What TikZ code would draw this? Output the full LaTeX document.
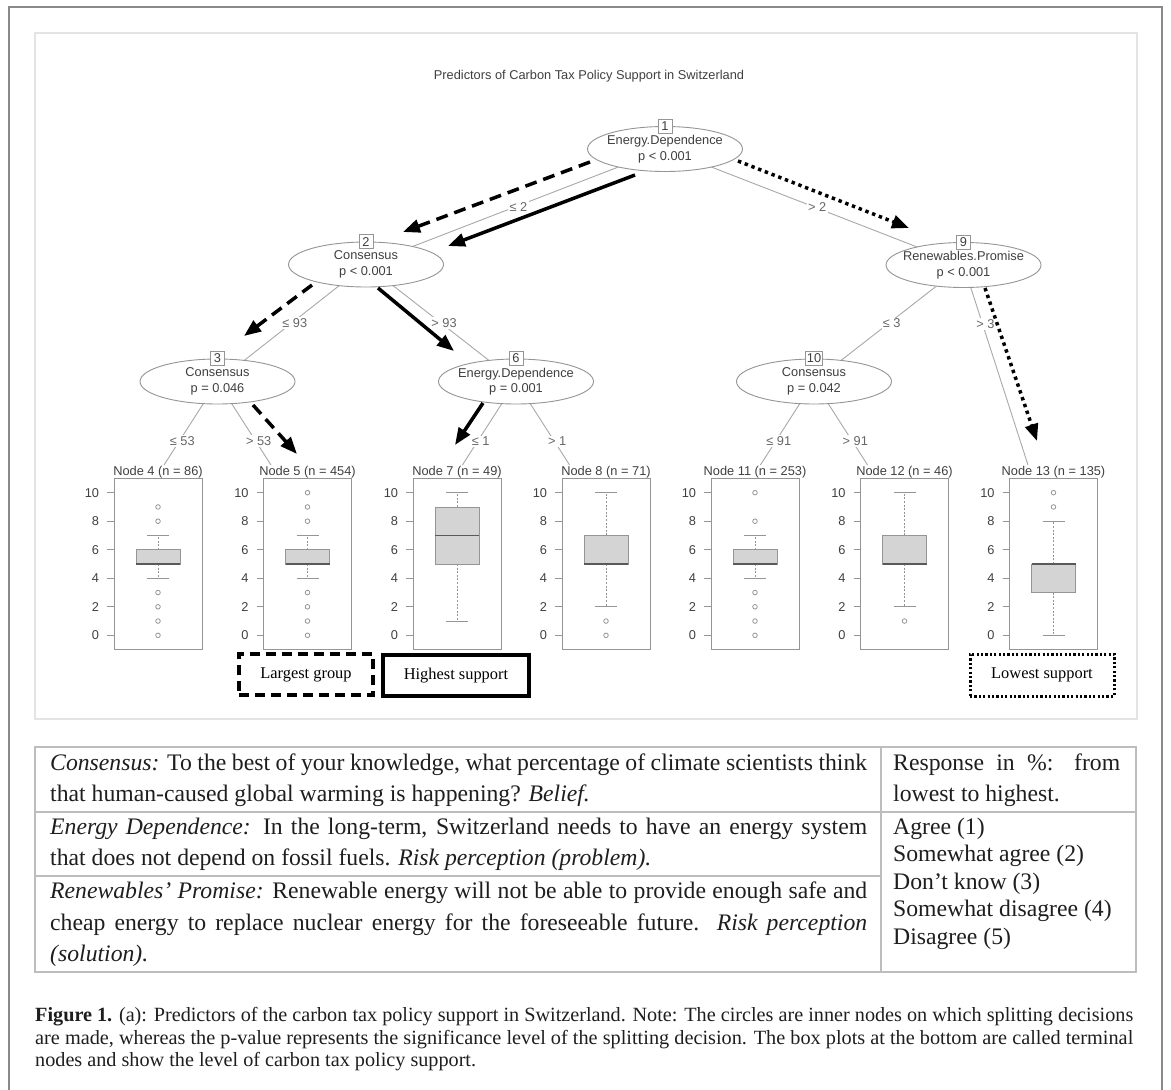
\documentclass[tikz,border=0pt]{standalone}
\usepackage{fontspec}
\usepackage{graphicx}
\setmainfont{Liberation Serif}
\newfontfamily\rfont{Liberation Sans}
\usetikzlibrary{shapes.geometric,arrows.meta}
\pgfdeclarelayer{bg}
\pgfsetlayers{bg,main}
\definecolor{rtext}{HTML}{3F3F3F}
\definecolor{rlab}{HTML}{666666}
\definecolor{rline}{HTML}{A8A8A8}
\definecolor{rbox}{HTML}{959595}
\definecolor{bfill}{HTML}{D4D4D4}
\definecolor{panelb}{HTML}{E4E4E4}
\definecolor{frameg}{HTML}{8A8A8A}
\definecolor{tableg}{HTML}{BDBDBD}
\definecolor{ink}{HTML}{1E1E1E}
\tikzset{
  rsty/.style={font=\rfont\fontsize{12.8pt}{15.6pt}\selectfont, text=rtext},
  inner/.style={ellipse, draw=rbox, fill=white, line width=0.9pt, minimum width=155pt, minimum height=45pt, inner sep=0pt},
  ntext/.style={rsty, align=center, inner sep=0pt},
  numbox/.style={draw=rbox, fill=white, line width=0.9pt, minimum width=14pt, minimum height=14pt, inner sep=1.2pt, rsty},
  treeedge/.style={draw=rline, line width=0.9pt},
  elabel/.style={fill=white, inner sep=1.2pt, rsty, text=rlab, xshift=3pt},
  leafframe/.style={draw=rbox, line width=0.9pt, fill=white, minimum width=88pt, minimum height=171pt, inner sep=0pt},
  leaflabel/.style={rsty, inner sep=0.5pt},
  ticklab/.style={rsty, anchor=east, inner sep=0pt},
  tickline/.style={draw=rbox, line width=0.8pt},
  whisk/.style={draw=rbox, line width=0.8pt, dash pattern=on 2pt off 1.6pt},
  capline/.style={draw=rbox, line width=0.9pt},
  bxs/.style={draw=rbox, fill=bfill, line width=0.9pt},
  medline/.style={draw=black!65, line width=1.6pt},
  outl/.style={draw=rbox, line width=0.8pt},
  hlarrow/.style={draw=black, line width=3.5pt, -{Triangle[length=17pt,width=13pt]}},
  dashpat/.style={dash pattern=on 12pt off 7pt},
  dotpat/.style={dash pattern=on 3.4pt off 3.8pt},
  hlbox/.style={draw=black, line width=3.2pt, inner sep=0pt, font=\fontsize{16.4pt}{19pt}\selectfont},
  tx/.style={anchor=base west, inner sep=0pt, text=ink, font=\fontsize{23.7pt}{31.6pt}\selectfont},
  captxt/.style={anchor=base west, inner sep=0pt, text=ink, font=\fontsize{20.2pt}{22.5pt}\selectfont},
  tablerule/.style={draw=tableg, line width=1.6pt}
}
\newcommand\jl[2]{\makebox[#1][s]{#2}}
\newcommand\leaf[8]{%
  \node[leafframe] (L#1) at (#2,564) {};
  \node[leaflabel] (H#1) at (#2,472) {#3};
  \foreach \v in {0,2,...,10}{%
    \draw[tickline] ({#2-51},{635.3-14.26*\v}) -- ({#2-44},{635.3-14.26*\v});
    \node[ticklab] (T#1-\v) at ({#2-58.8},{635.3-14.26*\v}) {\v};
  }
  \draw[whisk] (#2,{635.3-14.26*#6}) -- (#2,{635.3-14.26*#8});
  \draw[whisk] (#2,{635.3-14.26*#4}) -- (#2,{635.3-14.26*#7});
  \draw[capline] ({#2-11},{635.3-14.26*#8}) -- ({#2+11},{635.3-14.26*#8});
  \draw[capline] ({#2-11},{635.3-14.26*#7}) -- ({#2+11},{635.3-14.26*#7});
  \draw[bxs] ({#2-22},{635.3-14.26*#6}) rectangle ({#2+22},{635.3-14.26*#4});
  \draw[medline] ({#2-22},{635.3-14.26*#5}) -- ({#2+22},{635.3-14.26*#5});
}
\begin{document}
\begin{tikzpicture}[x=1pt,y=-1pt]
\useasboundingbox (0,0) rectangle (1171,1090);
% outer frame and plot panel
\draw[frameg, line width=1.5pt] (9,1091) -- (9,7) -- (1162,7) -- (1162,1091);
\draw[panelb, line width=2pt] (35,33) rectangle (1137,719);
% title
\node[rsty, inner sep=0pt] (title) at (589,76) {Predictors of Carbon Tax Policy Support in Switzerland};
% inner nodes
\node[inner] (n1) at (665,149) {};
\node[inner] (n2) at (366,264.5) {};
\node[inner] (n9) at (963.5,265) {};
\node[inner] (n3) at (217.5,381.5) {};
\node[inner] (n6) at (516,381.5) {};
\node[inner] (n10) at (814,381.5) {};
\node[ntext] (n1t) at (n1) {Energy.Dependence\\p < 0.001};
\node[ntext] (n2t) at (n2) {Consensus\\p < 0.001};
\node[ntext] (n9t) at (n9) {Renewables.Promise\\p < 0.001};
\node[ntext] (n3t) at (n3) {Consensus\\p = 0.046};
\node[ntext] (n6t) at (n6) {Energy.Dependence\\p = 0.001};
\node[ntext] (n10t) at (n10) {Consensus\\p = 0.042};
\node[numbox] (b1) at (n1.north) {1};
\node[numbox] (b2) at (n2.north) {2};
\node[numbox] (b9) at (n9.north) {9};
\node[numbox] (b3) at (n3.north) {3};
\node[numbox] (b6) at (n6.north) {6};
\node[numbox] (b10) at (n10.north) {10};
% leaf edge targets
\coordinate (t4) at (164,465);
\coordinate (t5) at (271,465);
\coordinate (t7) at (462.4,465);
\coordinate (t8) at (569.6,465);
\coordinate (t11) at (760.4,465);
\coordinate (t12) at (867.6,465);
\coordinate (t13) at (1028,465);
% terminal panels
\leaf{4}{158}{Node 4 (n = 86)}{5}{5}{6}{4}{7}
\foreach \o in {9,8,3,2,1,0} \draw[outl] (158,{635.3-14.26*\o}) circle[radius=2.3];
\leaf{5}{307.5}{Node 5 (n = 454)}{5}{5}{6}{4}{7}
\foreach \o in {10,9,8,3,2,1,0} \draw[outl] (307.5,{635.3-14.26*\o}) circle[radius=2.3];
\leaf{7}{457}{Node 7 (n = 49)}{5}{7}{9}{1}{10}
\leaf{8}{606}{Node 8 (n = 71)}{5}{5}{7}{2}{10}
\foreach \o in {1,0} \draw[outl] (606,{635.3-14.26*\o}) circle[radius=2.3];
\leaf{11}{755}{Node 11 (n = 253)}{5}{5}{6}{4}{7}
\foreach \o in {10,8,3,2,1,0} \draw[outl] (755,{635.3-14.26*\o}) circle[radius=2.3];
\leaf{12}{904.5}{Node 12 (n = 46)}{5}{5}{7}{2}{10}
\foreach \o in {1} \draw[outl] (904.5,{635.3-14.26*\o}) circle[radius=2.3];
\leaf{13}{1053.5}{Node 13 (n = 135)}{3}{5}{5}{0}{8}
\foreach \o in {10,9} \draw[outl] (1053.5,{635.3-14.26*\o}) circle[radius=2.3];
% tree edges behind the nodes
\begin{pgfonlayer}{bg}
\draw[treeedge] (n1.center) -- node[elabel] (e12) {≤ 2} (n2.center);
\draw[treeedge] (n1.center) -- node[elabel] (e19) {> 2} (n9.center);
\draw[treeedge] (n2.center) -- node[elabel] (e23) {≤ 93} (n3.center);
\draw[treeedge] (n2.center) -- node[elabel] (e26) {> 93} (n6.center);
\draw[treeedge] (n3.center) -- node[elabel, pos=0.714] (e34) {≤ 53} (t4);
\draw[treeedge] (n3.center) -- node[elabel, pos=0.714] (e35) {> 53} (t5);
\draw[treeedge] (n6.center) -- node[elabel, pos=0.714] (e67) {≤ 1} (t7);
\draw[treeedge] (n6.center) -- node[elabel, pos=0.714] (e68) {> 1} (t8);
\draw[treeedge] (n9.center) -- node[elabel] (e910) {≤ 3} (n10.center);
\draw[treeedge] (n9.center) -- node[elabel, pos=0.295] (e913) {> 3} (t13);
\draw[treeedge] (n10.center) -- node[elabel, pos=0.714] (e1011) {≤ 91} (t11);
\draw[treeedge] (n10.center) -- node[elabel, pos=0.714] (e1012) {> 91} (t12);
\end{pgfonlayer}
% highlight arrows
\coordinate (da1s) at (590,162); \coordinate (da1e) at (403,232);
\coordinate (sa1s) at (635,175); \coordinate (sa1e) at (448,246);
\coordinate (oa1s) at (738,161); \coordinate (oa1e) at (909,228);
\coordinate (da2s) at (312,285); \coordinate (da2e) at (244,336);
\coordinate (sa2s) at (378,288); \coordinate (sa2e) at (454,351);
\coordinate (da3s) at (253,405); \coordinate (da3e) at (297,454);
\coordinate (sa3s) at (483,403); \coordinate (sa3e) at (455,445);
\coordinate (oa2s) at (985,288); \coordinate (oa2e) at (1037,441);
\draw[hlarrow, dashpat] (da1s) -- (da1e);
\draw[hlarrow] (sa1s) -- (sa1e);
\draw[hlarrow, dotpat] (oa1s) -- (oa1e);
\draw[hlarrow, dashpat] (da2s) -- (da2e);
\draw[hlarrow] (sa2s) -- (sa2e);
\draw[hlarrow, dashpat] (da3s) -- (da3e);
\draw[hlarrow] (sa3s) -- (sa3e);
\draw[hlarrow, dotpat] (oa2s) -- (oa2e);
% highlight boxes
\node[hlbox, dash pattern=on 10pt off 6pt, minimum width=134pt, minimum height=41pt] (lg) at (306,674.5) {Largest group};
\node[hlbox, minimum width=146pt, minimum height=41pt] (hs) at (456,675.5) {Highest support};
\node[hlbox, line width=3pt, dash pattern=on 2.2pt off 2.2pt, minimum width=144pt, minimum height=42pt] (ls) at (1042,675) {Lowest support};
% table
\draw[tablerule] (35,747) rectangle (1136,972);
\draw[tablerule] (35,812) -- (1136,812);
\draw[tablerule] (35,876) -- (881,876);
\draw[tablerule] (881,747) -- (881,972);
\node[tx] (c1a) at (50,770) {\jl{817pt}{\textit{Consensus:} To the best of your knowledge, what percentage of climate scientists think}};
\node[tx] (c1b) at (50,801) {that human-caused global warming is happening? \textit{Belief.}};
\node[tx] (c2a) at (50,834) {\jl{817pt}{\textit{Energy Dependence:} In the long-term, Switzerland needs to have an energy system}};
\node[tx] (c2b) at (50,865.7) {that does not depend on fossil fuels. \textit{Risk perception (problem).}};
\node[tx] (c3a) at (50,898) {\jl{817pt}{\textit{Renewables’ Promise:} Renewable energy will not be able to provide enough safe and}};
\node[tx] (c3b) at (50,930) {\jl{817pt}{cheap energy to replace nuclear energy for the foreseeable future. \textit{Risk perception}}};
\node[tx] (c3c) at (50,961.7) {\textit{(solution).}};
\node[tx] (r1a) at (893,770) {\jl{227pt}{Response in \%: from}};
\node[tx] (r1b) at (893,801) {lowest to highest.};
\node[tx] (r2a) at (893,834) {Agree (1)};
\node[tx] (r2b) at (893,861.7) {Somewhat agree (2)};
\node[tx] (r2c) at (893,889) {Don’t know (3)};
\node[tx] (r2d) at (893,916.7) {Somewhat disagree (4)};
\node[tx] (r2e) at (893,944) {Disagree (5)};
% caption
\node[captxt] (cap1) at (35,1021.7) {\resizebox{1098pt}{\height}{\textbf{Figure 1.} (a): Predictors of the carbon tax policy support in Switzerland. Note: The circles are inner nodes on which splitting decisions}};
\node[captxt] (cap2) at (35,1044.2) {\resizebox{1098pt}{\height}{are made, whereas the p-value represents the significance level of the splitting decision. The box plots at the bottom are called terminal}};
\node[captxt] (cap3) at (35,1066.7) {nodes and show the level of carbon tax policy support.};
\end{tikzpicture}
\end{document}
